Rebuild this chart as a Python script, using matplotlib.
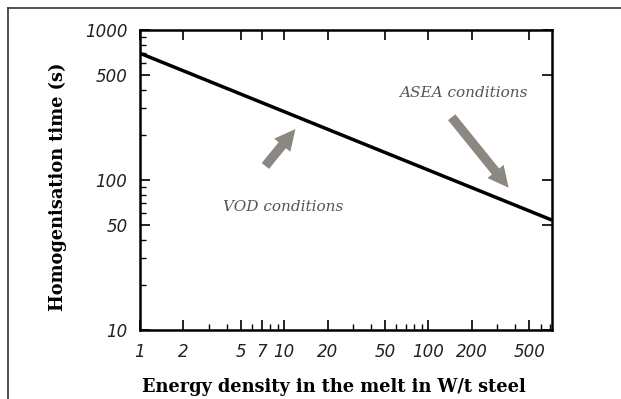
import matplotlib
matplotlib.use('Agg')
import matplotlib.pyplot as plt
from matplotlib.lines import Line2D

# data
energy = [1, 720]          # W/t steel
hom_time = [700, 54]       # s
x_ticks = [1, 2, 5, 7, 10, 20, 50, 100, 200, 500]
y_ticks = [10, 50, 100, 500, 1000]

vod_label = 'VOD conditions'
vod_text_pos = (9.8, 66)
vod_arrow = ((7.2, 120), (12.3, 226))   # tail, head
asea_label = 'ASEA conditions'
asea_text_pos = (175, 380)
asea_arrow = ((141, 271), (370, 86))

fig = plt.figure(figsize=(6.21, 3.99), dpi=100)
ax = fig.add_axes([0.2254, 0.1729, 0.889 - 0.2254, 0.9248 - 0.1729])

ax.plot(energy, hom_time, color='black', lw=2.5, solid_capstyle='butt')
ax.set_xscale('log')
ax.set_yscale('log')
ax.set_xlim(1, 720)
ax.set_ylim(10, 1000)

ax.set_xticks(x_ticks)
ax.set_xticklabels([str(t) for t in x_ticks])
ax.set_yticks(y_ticks)
ax.set_yticklabels([str(t) for t in y_ticks])
for lab in ax.get_xticklabels() + ax.get_yticklabels():
    lab.set_fontstyle('italic')
    lab.set_fontsize(12)
    lab.set_color('#222222')

ax.tick_params(which='both', direction='in', top=True, right=True)
ax.tick_params(which='minor', top=False, right=False)
ax.tick_params(which='major', length=7, width=1.2)
ax.tick_params(which='minor', length=4, width=1.0)
ax.tick_params(axis='x', which='major', pad=9)
ax.tick_params(axis='y', which='major', pad=9)
ax.tick_params(axis='x', which='minor', labelbottom=False)
ax.tick_params(axis='y', which='minor', labelleft=False)
for s in ax.spines.values():
    s.set_linewidth(1.8)

ax.set_xlabel('Energy density in the melt in W/t steel', family='DejaVu Serif',
              fontweight='bold', fontsize=12.8, va='center')
ax.set_ylabel('Homogenisation time (s)', family='DejaVu Serif',
              fontweight='bold', fontsize=12.8, va='center')
ax.xaxis.set_label_coords(0.47, -0.19)
ax.yaxis.set_label_coords(-0.199, 0.477)

arrow_style = dict(arrowstyle='simple,head_width=1.0,head_length=1.0,tail_width=0.45',
                   color='#8c8780', lw=0, mutation_scale=15)
ax.annotate('', xy=vod_arrow[1], xytext=vod_arrow[0], arrowprops=arrow_style)
ax.annotate('', xy=asea_arrow[1], xytext=asea_arrow[0], arrowprops=arrow_style)

ax.text(*vod_text_pos, vod_label, family='DejaVu Serif', style='italic',
        fontsize=11, color='#555555', ha='center', va='center')
ax.text(*asea_text_pos, asea_label, family='DejaVu Serif', style='italic',
        fontsize=11, color='#555555', ha='center', va='center')

# frame lines around the figure (left and top)
fig.add_artist(Line2D([8 / 621, 8 / 621], [0, 1 - 8 / 399], color='#333333', lw=1.2))
fig.add_artist(Line2D([8 / 621, 1], [1 - 8 / 399, 1 - 8 / 399], color='#333333', lw=1.2))

fig.savefig('out.png', dpi=100)
